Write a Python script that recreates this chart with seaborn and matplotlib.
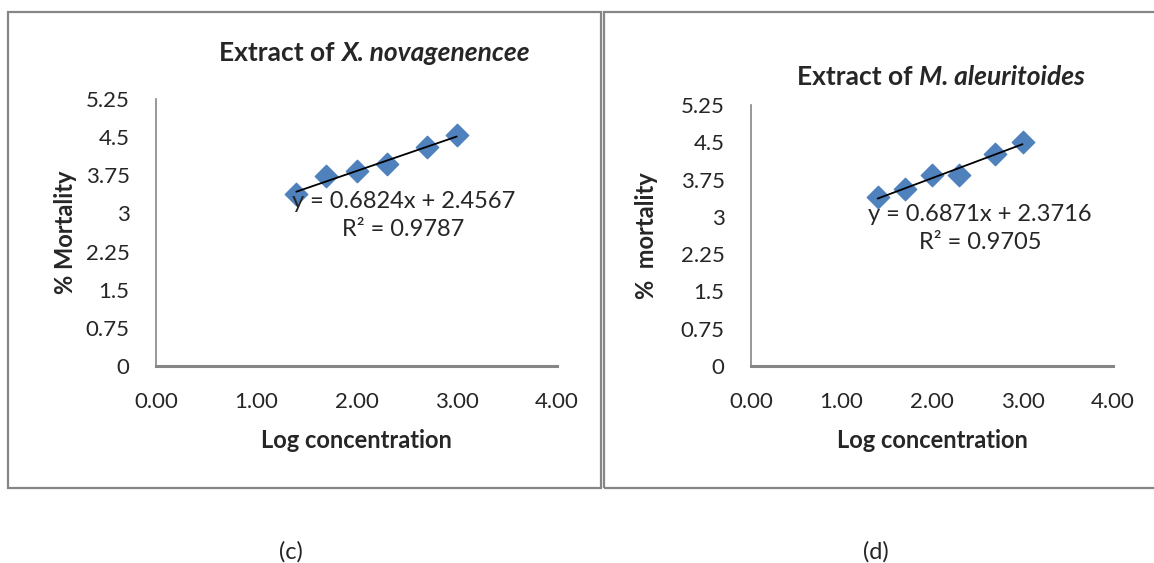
import numpy as np
import pandas as pd
import matplotlib
matplotlib.use("Agg")
import matplotlib.pyplot as plt
from matplotlib.patches import Rectangle
import seaborn as sns

# log concentration and % mortality (probit)
log_conc = [1.40, 1.70, 2.00, 2.30, 2.70, 3.00]
mort_x = [3.38, 3.73, 3.83, 3.97, 4.30, 4.54]
mort_m = [3.40, 3.56, 3.84, 3.84, 4.27, 4.51]

eq_x = "y = 0.6824x + 2.4567\nR² = 0.9787"
eq_m = "y = 0.6871x + 2.3716\nR² = 0.9705"

x_ticks = [0, 1, 2, 3, 4]
y_ticks = [0, 0.75, 1.5, 2.25, 3, 3.75, 4.5, 5.25]
y_labels = ["0", "0.75", "1.5", "2.25", "3", "3.75", "4.5", "5.25"]

sns.set_theme(style="white")
plt.rcParams['font.family'] = ['Lato', 'DejaVu Sans']

W, H = 1154, 563
fig = plt.figure(figsize=(W / 100, H / 100), dpi=100)
GRAY = "#868686"
BLUE = "#4F81BD"


def px(x0, y0, x1, y1):
    # pixel box (top-left origin) -> figure fraction rect
    return [x0 / W, 1 - y1 / H, (x1 - x0) / W, (y1 - y0) / H]


# chart frames
for x0, x1 in [(8, 601), (604, 1160)]:
    fig.patches.append(Rectangle((x0 / W, 1 - 488 / H), (x1 - x0) / W, (488 - 12) / H,
                                 transform=fig.transFigure, fill=False,
                                 edgecolor=GRAY, linewidth=1.6))


def add_title(cx, cy, plain, italic, size=19):
    t1 = fig.text(0, 0, plain, fontsize=size, fontweight="bold", va="center")
    t2 = fig.text(0, 0, italic, fontsize=size, fontweight="bold", style="italic", va="center")
    fig.canvas.draw()
    r = fig.canvas.get_renderer()
    w1 = t1.get_window_extent(r).width
    w2 = t2.get_window_extent(r).width
    left = cx - (w1 + w2) / 2
    t1.set_position((left / W, 1 - cy / H))
    t2.set_position(((left + w1) / W, 1 - cy / H))


def make(rect, y, eq, eq_pos, ylabel, lab_x):
    ax = fig.add_axes(rect)
    df = pd.DataFrame({"x": log_conc, "y": y})
    sns.regplot(data=df, x="x", y="y", ax=ax, ci=None, marker="D",
                scatter_kws={"s": 130, "color": BLUE, "edgecolor": BLUE, "alpha": 1, "zorder": 3},
                line_kws={"color": "black", "linewidth": 1.3, "zorder": 4})
    ax.set_xlim(0, 4)
    ax.set_ylim(0, 5.25)
    ax.set_xticks(x_ticks)
    ax.set_xticklabels([f"{v:.2f}" for v in x_ticks])
    ax.set_yticks(y_ticks)
    ax.set_yticklabels(y_labels)
    for s in ["top", "right"]:
        ax.spines[s].set_visible(False)
    for s in ["left", "bottom"]:
        ax.spines[s].set_color(GRAY)
        ax.spines[s].set_linewidth(1.2)
    ax.spines["bottom"].set_linewidth(2.2)
    ax.tick_params(axis="y", direction="out", length=6, color=GRAY, width=1, pad=13, labelsize=16)
    ax.tick_params(axis="x", direction="out", length=7, color=GRAY, width=1, pad=12, labelsize=16)
    ax.set_xlabel("Log concentration", fontsize=17, fontweight="bold", labelpad=12)
    ax.set_ylabel(ylabel, fontsize=17, fontweight="bold")
    ax.yaxis.set_label_coords(lab_x, 0.5)
    ax.text(eq_pos[0], eq_pos[1], eq, ha="center", va="top", multialignment="center",
            fontsize=17, linespacing=1.4, zorder=5)
    return ax


make(px(156, 99, 557, 366), mort_x, eq_x, (2.47, 3.44), "% Mortality", -0.197)
make(px(751, 105, 1113, 366), mort_m, eq_m, (2.53, 3.26), "%  mortality", -0.257)

add_title(374, 53, "Extract of ", "X. novagenencee")
add_title(941, 77, "Extract of ", "M. aleuritoides")

fig.text(291 / W, 1 - 552 / H, "(c)", ha="center", va="center", fontsize=17)
fig.text(876 / W, 1 - 552 / H, "(d)", ha="center", va="center", fontsize=17)

fig.savefig("out.png", dpi=100)
